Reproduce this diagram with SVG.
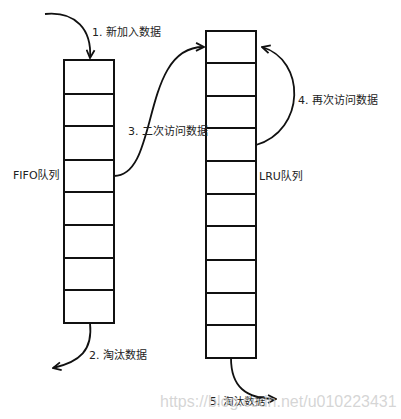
<svg xmlns="http://www.w3.org/2000/svg" width="401" height="419" viewBox="0 0 401 419">
<style>
.cell{fill:#fff;stroke:#111;stroke-width:2}
.conn{fill:none;stroke:#111;stroke-width:1.8}
.lbl{font-family:"DejaVu Sans","Noto Sans CJK SC",sans-serif;font-size:11px;fill:#222}
.wm{font-family:"Liberation Sans",Arial,sans-serif;font-size:16px;fill:#c8c8c8;fill-opacity:0.75}
</style>
<defs>
<marker id="open" viewBox="0 0 10 10" refX="9" refY="5" markerWidth="10" markerHeight="10" markerUnits="userSpaceOnUse" orient="auto">
<path d="M1,1 L9,5 L1,9" fill="none" stroke="#111" stroke-width="1.8"/>
</marker>
</defs>
<rect width="401" height="419" fill="#fff"/>
<g id="fifo">
<rect class="cell" x="64" y="60" width="50" height="34"/>
<rect class="cell" x="64" y="94" width="50" height="32"/>
<rect class="cell" x="64" y="126" width="50" height="34"/>
<rect class="cell" x="64" y="160" width="50" height="32"/>
<rect class="cell" x="64" y="192" width="50" height="33"/>
<rect class="cell" x="64" y="225" width="50" height="33"/>
<rect class="cell" x="64" y="258" width="50" height="32"/>
<rect class="cell" x="64" y="290" width="50" height="33"/>
<text class="lbl" x="13" y="179">FIFO队列</text>
</g>
<g id="lru">
<rect class="cell" x="206" y="31" width="50" height="32"/>
<rect class="cell" x="206" y="63" width="50" height="33"/>
<rect class="cell" x="206" y="96" width="50" height="32"/>
<rect class="cell" x="206" y="128" width="50" height="33"/>
<rect class="cell" x="206" y="161" width="50" height="33"/>
<rect class="cell" x="206" y="194" width="50" height="32"/>
<rect class="cell" x="206" y="226" width="50" height="34"/>
<rect class="cell" x="206" y="260" width="50" height="33"/>
<rect class="cell" x="206" y="293" width="50" height="32"/>
<rect class="cell" x="206" y="325" width="50" height="33"/>
<text class="lbl" x="259" y="180">LRU队列</text>
</g>
<g id="connectors">
<path class="conn" d="M45,14 C76,11 92,30 90,58" marker-end="url(#open)"/>
<path class="conn" d="M114,176 C160,176 140,46 204,47" marker-end="url(#open)"/>
<path class="conn" d="M256,145 C306,130 306,60 262,47" marker-end="url(#open)"/>
<path class="conn" d="M90,323 C93,350 80,362 53,368" marker-end="url(#open)"/>
<path class="conn" d="M231,358 C231,386 245,399 276,399" marker-end="url(#open)"/>
</g>
<g id="labels">
<text class="lbl" x="92" y="36">1. 新加入数据</text>
<text class="lbl" x="89" y="359">2. 淘汰数据</text>
<text class="lbl" x="128" y="135">3. 二次访问数据</text>
<text class="lbl" x="298" y="104">4. 再次访问数据</text>
<text class="lbl" x="210" y="405" style="font-size:10.5px">5. 淘汰数据</text>
</g>
<text class="wm" x="160" y="407">https://blog.csdn.net/u010223431</text>
</svg>
